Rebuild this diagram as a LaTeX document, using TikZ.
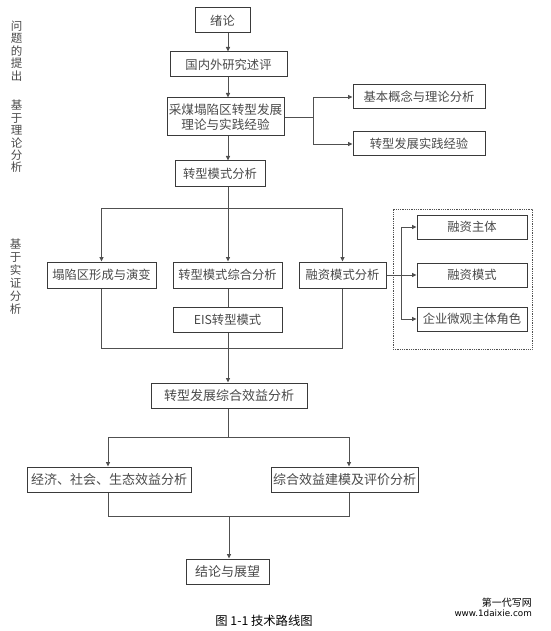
\documentclass[tikz,border=0pt]{standalone}
\usepackage{fontspec}
\setmainfont{Liberation Serif}
\newfontfamily\cjk{Noto Sans CJK SC}
\newfontfamily\wmfont{DejaVu Sans}
\usetikzlibrary{arrows.meta,calc}
\definecolor{linec}{HTML}{3A3A3A}
\definecolor{conc}{HTML}{505050}
\definecolor{txtc}{HTML}{4A4A4A}
\begin{document}
\begin{tikzpicture}[x=1pt,y=-1pt,
  box/.style={draw=linec,line width=1pt,text=txtc,inner sep=0pt,
    font=\cjk\fontsize{12.3}{15}\selectfont,align=center},
  big/.style={font=\cjk\fontsize{13}{16}\selectfont},
  con/.style={draw=conc,line width=0.9pt},
  arr/.style={con,-{Triangle[length=4.5pt,width=4pt]}},
  side/.style={text=txtc,align=center,inner sep=0pt}]
\useasboundingbox (0,0) rectangle (550,631);
\fill[white] (0,0) rectangle (550,631);

% side labels
\node[side,font=\cjk\fontsize{11.5}{12.4}\selectfont] (s1) at (16.5,51) {问\\题\\的\\提\\出};
\node[side,font=\cjk\fontsize{11.5}{12.4}\selectfont] (s2) at (16.5,136.5) {基\\于\\理\\论\\分\\析};
\node[side,font=\cjk\fontsize{11.5}{13}\selectfont] (s3) at (15.5,277) {基\\于\\实\\证\\分\\析};

% top column
\node[box,minimum width=55pt,minimum height=25pt] (intro) at (222.5,20.5) {绪论};
\node[box,minimum width=117pt,minimum height=25pt] (lit) at (228.5,64.5) {国内外研究述评};
\node[box,minimum width=117pt,minimum height=38pt,font=\cjk\fontsize{12.6}{15.5}\selectfont] (cm) at (225.5,117) {采煤塌陷区转型发展\\理论与实践经验};
\node[box,minimum width=90pt,minimum height=25pt] (tm) at (220,173.5) {转型模式分析};
\node[box,minimum width=132pt,minimum height=24pt] (bc) at (419,97) {基本概念与理论分析};
\node[box,minimum width=132pt,minimum height=24pt] (pe) at (419,144) {转型发展实践经验};

% middle row
\node[box,minimum width=109pt,minimum height=26pt] (tx) at (101.5,275) {塌陷区形成与演变};
\node[box,minimum width=109pt,minimum height=26pt] (tz) at (227.5,275) {转型模式综合分析};
\node[box,minimum width=87pt,minimum height=26pt] (rz) at (342.5,275) {融资模式分析};
\node[box,minimum width=109pt,minimum height=25pt] (eis) at (227.5,319.5) {EIS转型模式};

% dashed group
\node[draw=conc,densely dotted,line width=0.8pt,minimum width=139pt,minimum height=140pt,inner sep=0pt] (grp) at (462.5,279) {};
\node[box,minimum width=110pt,minimum height=24pt] (r1) at (472,227) {融资主体};
\node[box,minimum width=110pt,minimum height=24pt] (r2) at (472,275) {融资模式};
\node[box,minimum width=110pt,minimum height=24pt] (r3) at (472,319) {企业微观主体角色};

% lower part
\node[box,big,minimum width=156pt,minimum height=25pt] (ce) at (229,395.5) {转型发展综合效益分析};
\node[box,big,minimum width=164pt,minimum height=25pt] (ec) at (109,479.5) {经济、社会、生态效益分析};
\node[box,big,minimum width=147pt,minimum height=25pt] (cz) at (344.5,479.5) {综合效益建模及评价分析};
\node[box,big,minimum width=83pt,minimum height=25pt] (concl) at (227.5,571.5) {结论与展望};

% caption and watermark
\node[inner sep=0pt,font=\cjk\fontsize{12.3}{14}\selectfont] (cap) at (264,621) {图\ 1-1\ 技术路线图};
\node[anchor=east,inner sep=0pt,font=\cjk\fontsize{10}{12}\selectfont] (wm1) at (532,603) {第一代写网};
\node[anchor=east,inner sep=0pt,font=\wmfont\fontsize{8.8}{10}\selectfont] (wm2) at (532,613.5) {www.1daixie.com};

% connectors
\coordinate (mx) at (228,0);
\draw[arr] (intro.south -| mx) -- (lit.north -| mx);
\draw[arr] (lit.south -| mx) -- (cm.north -| mx);
\draw[arr] (cm.south -| mx) -- (tm.north -| mx);

\coordinate (bx) at (313,0);
\draw[con] (cm.east) -- (cm.east -| bx);
\draw[arr] (cm.east -| bx) |- (bc.west);
\draw[arr] (cm.east -| bx) |- (pe.west);

\coordinate (b1) at (228,208);
\draw[arr] (tm.south -| mx) -- (tz.north -| mx);
\draw[arr] (b1) -| (tx.north);
\draw[arr] (b1) -| (rz.north);
\draw[con] (tz.south -| mx) -- (eis.north -| mx);
\draw[arr] (eis.south -| mx) -- (ce.north -| mx);
\coordinate (j1) at (228,348);
\draw[con] (tx.south) |- (j1);
\draw[con] (rz.south) |- (j1);

\coordinate (rb) at (401,275);
\draw[con] (rz.east) -- (rb);
\draw[arr] (rb) |- (r1.west);
\draw[arr] (rb) -- (r2.west);
\draw[arr] (rb) |- (r3.west);

\coordinate (b2) at (228,437);
\coordinate (ecx) at (108,0);
\coordinate (czx) at (349,0);
\draw[con] (ce.south -| mx) -- (b2);
\draw[arr] (b2) -| (ec.north -| ecx);
\draw[arr] (b2) -| (cz.north -| czx);
\coordinate (j2) at (229,516);
\draw[con] (ec.south -| ecx) |- (j2);
\draw[con] (cz.south -| czx) |- (j2);
\draw[arr] (j2) -- (concl.north -| j2);
\end{tikzpicture}
\end{document}
